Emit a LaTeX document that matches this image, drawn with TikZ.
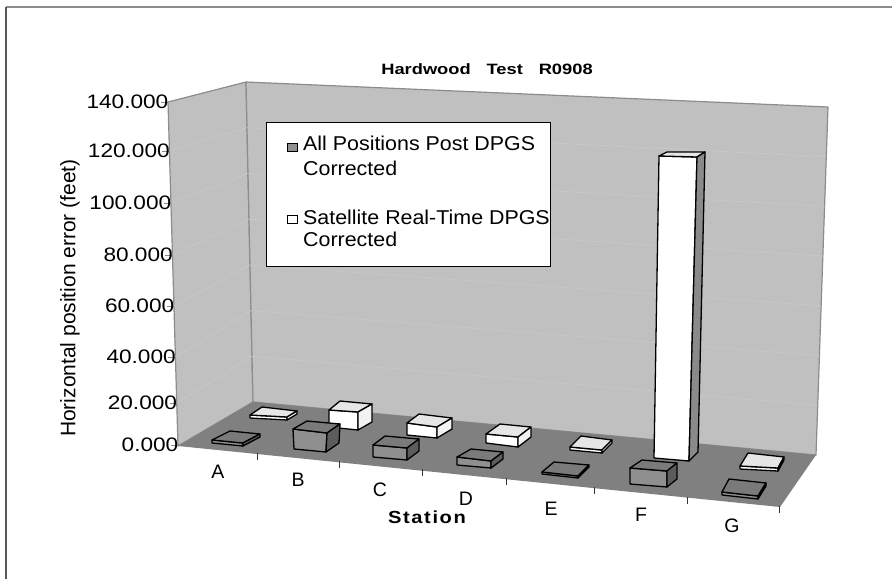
\documentclass[tikz,border=0pt]{standalone}
\usepackage{graphicx}
\usepackage{fontspec}
\setmainfont{Liberation Sans}
\newfontfamily\stafont{Liberation Sans}[LetterSpace=8]
\usetikzlibrary{calc}
\definecolor{wallc}{HTML}{C0C0C0}
\definecolor{floorc}{HTML}{808080}
\definecolor{edgec}{HTML}{8C8C8C}
\definecolor{gridc}{HTML}{C9C9C9}
\definecolor{gfront}{HTML}{8F8F8F}
\definecolor{gtop}{HTML}{7A7A7A}
\definecolor{gside}{HTML}{5C5C5C}
\definecolor{wtop}{HTML}{E6E6E6}
\definecolor{wside}{HTML}{F2F2F2}
\definecolor{tallside}{HTML}{8A8A8A}
\tikzset{
  barline/.style={draw=black,line width=1.3pt,line join=round},
  gsfront/.style={fill=gfront}, gstop/.style={fill=gtop}, gsside/.style={fill=gside},
  wsfront/.style={fill=white}, wstop/.style={fill=wtop}, wsside/.style={fill=wside},
  lbl/.style={inner sep=0pt,font=\fontsize{19.5}{21}\selectfont},
  ticklbl/.style={inner sep=0pt,anchor=east,font=\fontsize{19.5}{21}\selectfont},
  legtxt/.style={inner sep=0pt,anchor=base west,font=\fontsize{20}{22}\selectfont},
  axtick/.style={draw=edgec,line width=0.8pt},
  cattick/.style={draw=black!80,line width=0.7pt}
}
\newcommand{\cuboid}[7]{%
  \filldraw[barline,#7front] (#1) -- (#2) -- (#3) -- (#4) -- cycle;
  \filldraw[barline,#7top] (#1) -- (#2) -- (#6) -- (#5) -- cycle;
  \filldraw[barline,#7side] (#2) -- (#6) -- ($(#6)+(#3)-(#2)$) -- (#3) -- cycle;
}
\begin{document}
\begin{tikzpicture}[x=1pt,y=-1pt]
\useasboundingbox (0,0) rectangle (892,579);
% outer frame
\draw[color=edgec,line width=2pt] (6,7) -- (892,7);
\draw[color=black!65,line width=2pt] (6,7) -- (6,579);
% walls and floor
\filldraw[fill=wallc,draw=edgec,line width=1.2pt,line join=round] (168,102) -- (246,82) -- (253,402) -- (178,446) -- cycle;
\filldraw[fill=wallc,draw=edgec,line width=1.2pt,line join=round] (246,82) -- (828,107) -- (816,455) -- (253,402) -- cycle;
\fill[floorc] (178,446) -- (253,402) -- (816,455) -- (780,507) -- cycle;
% faint gridlines
\draw[gridc,line width=0.6pt] (176.7,403) -- (252,356.3) -- (817.7,405.3);
\draw[gridc,line width=0.6pt] (175.4,357) -- (251,310.6) -- (819.4,355.6);
\draw[gridc,line width=0.6pt] (173.9,306) -- (250,264.9) -- (821.1,305.9);
\draw[gridc,line width=0.6pt] (172.4,255) -- (249,219.1) -- (822.9,256.1);
\draw[gridc,line width=0.6pt] (170.9,203) -- (248,173.4) -- (824.6,206.4);
\draw[gridc,line width=0.6pt] (169.4,151) -- (247,127.7) -- (826.3,156.7);
% y ticks and labels
\foreach \v/\yy/\xx in {0.000/445/178.0, 20.000/403/176.7, 40.000/357/175.4, 60.000/306/173.9, 80.000/255/172.4, 100.000/203/170.9, 120.000/151/169.4, 140.000/102/168.0}{
  \draw[axtick] (\xx-7,\yy) -- (\xx,\yy);
  \node[ticklbl] (t\yy) at (\xx+0.5,\yy) {\scalebox{1.16}[1]{\v}};
}
\node[inner sep=0pt,rotate=90,font=\fontsize{21}{23}\selectfont] (ytitle) at (70,298) {Horizontal position error (feet)};
% category ticks
\foreach \tx/\ty in {257/453, 339/461, 422/469, 506/478, 594/487, 687/497, 779/506}{
  \draw[cattick] (\tx,\ty) -- (\tx,\ty+7);
}
% category labels
\node[lbl] (cA) at (218,472) {A};
\node[lbl] (cB) at (298,480) {B};
\node[lbl] (cC) at (380,490) {C};
\node[lbl] (cD) at (466,499) {D};
\node[lbl] (cE) at (551,509) {E};
\node[lbl] (cF) at (641,515) {F};
\node[lbl] (cG) at (732,526) {G};
% back row (white series)
\cuboid{250,415}{287,417}{287,420}{250,418}{262,407}{297,411}{ws}
\cuboid{329,410}{358,412}{358,430}{329,427}{340,401}{372,404}{ws}
\cuboid{407,423}{437,427}{437,438}{407,435}{419,414}{452,418}{ws}
\cuboid{486,434}{518,437}{518,447}{486,443}{500,424}{531,427}{ws}
\cuboid{570,447}{602,450}{602,453}{570,450}{581,436}{612,440}{ws}
% tall white bar F
\filldraw[barline,fill=white] (659,156) -- (697,157) -- (689,461) -- (654,458) -- cycle;
\filldraw[barline,fill=wtop] (659,156) -- (697,157) -- (705,152) -- (667,152) -- cycle;
\filldraw[barline,fill=tallside] (697,157) -- (705,152) -- (698,452) -- (689,461) -- cycle;
\cuboid{740,466}{778,468}{778,471}{740,469}{748,453}{784,457}{ws}
% front row (gray series)
\cuboid{212,440}{243,443}{243,446}{212,443}{230,431}{260,434}{gs}
\cuboid{293,429}{327,433}{326,452}{294,449}{307,421}{340,424}{gs}
\cuboid{373,445}{407,448}{407,460}{373,457}{385,436}{419,439}{gs}
\cuboid{457,457}{491,461}{491,468}{457,465}{471,449}{503,452}{gs}
\cuboid{542,472}{578,476}{578,478}{542,474}{554,462}{589,465}{gs}
\cuboid{630,468}{667,471}{667,487}{630,484}{642,460}{677,463}{gs}
\cuboid{722,492}{758,496}{758,499}{722,495}{729,479}{766,483}{gs}
% legend
\filldraw[fill=white,draw=black,line width=1pt] (266,122) rectangle (550,266);
\filldraw[fill=gfront,draw=black,line width=0.9pt] (287,143) rectangle (297,151);
\filldraw[fill=white,draw=black,line width=0.9pt] (287,215) rectangle (297,223);
\node[legtxt] (l1a) at (303,150.7) {\scalebox{1.07}[1]{All Positions Post DPGS}};
\node[legtxt] (l1b) at (303,175) {\scalebox{1.07}[1]{Corrected}};
\node[legtxt] (l2a) at (303,224.5) {\scalebox{1.07}[1]{Satellite Real-Time DPGS}};
\node[legtxt] (l2b) at (303,246) {\scalebox{1.07}[1]{Corrected}};
% titles
\node[inner sep=0pt,font=\bfseries\fontsize{15}{17}\selectfont] (title) at (487,69) {\scalebox{1.22}[1]{Hardwood\hspace{13pt}Test\hspace{13pt}R0908}};
\node[inner sep=0pt,font=\stafont\bfseries\fontsize{17.5}{19}\selectfont] (station) at (427,517) {\scalebox{1.15}[1]{Station}};
\end{tikzpicture}
\end{document}
